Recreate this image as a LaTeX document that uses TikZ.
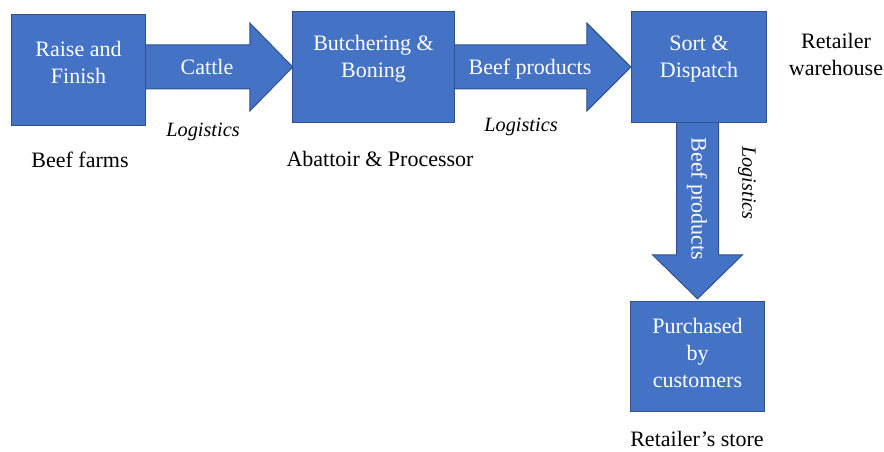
\documentclass[tikz,border=0pt]{standalone}
\usepackage{fontspec}
\setmainfont{Liberation Serif}
\usetikzlibrary{calc}
\definecolor{boxblue}{HTML}{4472C4}
\definecolor{boxline}{HTML}{2F528F}
\begin{document}
\begin{tikzpicture}[x=1pt,y=-1pt,
  box/.style={draw=boxline,line width=1pt,fill=boxblue,inner sep=0pt},
  blockarrow/.style={draw=boxline,line width=1pt,fill=boxblue,line join=miter},
  intext/.style={text=white,align=center,font=\fontsize{22}{27}\selectfont,inner sep=0pt},
  lbl/.style={text=black,align=center,font=\fontsize{22}{27}\selectfont,inner sep=0pt},
  logi/.style={text=black,font=\fontsize{20.3}{24}\selectfont\itshape,inner sep=0pt}]
\useasboundingbox (0,0) rectangle (884,452);
% boxes (positions)
\coordinate (p1) at (78.5,70);
\coordinate (p2) at (373.5,67);
\coordinate (p3) at (699,67);
\coordinate (p4) at (697.5,356.5);
\path (p1) node[minimum width=133pt,minimum height=110pt,inner sep=0pt] (b1) {};
\path (p2) node[minimum width=161pt,minimum height=110pt,inner sep=0pt] (b2) {};
\path (p3) node[minimum width=134pt,minimum height=110pt,inner sep=0pt] (b3) {};
\path (p4) node[minimum width=133pt,minimum height=109pt,inner sep=0pt] (b4) {};
% block arrows
\draw[blockarrow] ($(b1.east|-b2.west)+(-2,-22)$) -- ($(b2.west)+(-43,-22)$) -- ($(b2.west)+(-43,-44)$) -- (b2.west)
  -- ($(b2.west)+(-43,44)$) -- ($(b2.west)+(-43,22)$) -- ($(b1.east|-b2.west)+(-2,22)$);
\draw[blockarrow] ($(b2.east)+(-2,-22)$) -- ($(b3.west|-b2.east)+(-45,-22)$) -- ($(b3.west|-b2.east)+(-45,-44)$) -- ($(b3.west|-b2.east)+(-1,0)$)
  -- ($(b3.west|-b2.east)+(-45,44)$) -- ($(b3.west|-b2.east)+(-45,22)$) -- ($(b2.east)+(-2,22)$);
\draw[blockarrow] ($(b4.north|-b3.south)+(-21,-2)$) -- ($(b4.north)+(-21,-47)$) -- ($(b4.north)+(-45,-47)$) -- ($(b4.north)+(0,-3)$)
  -- ($(b4.north)+(45,-47)$) -- ($(b4.north)+(21,-47)$) -- ($(b4.north|-b3.south)+(21,-2)$);
% boxes drawn
\draw[box] (b1.north west) rectangle (b1.south east);
\draw[box] (b2.north west) rectangle (b2.south east);
\draw[box] (b3.north west) rectangle (b3.south east);
\draw[box] (b4.north west) rectangle (b4.south east);
% box texts
\node[intext] (t1) at ($(b1.center)+(0,-8)$) {Raise and\\Finish};
\node[intext] (t2) at ($(b2.center)+(0,-8)$) {Butchering \&\\Boning};
\node[intext] (t3) at ($(b3.center)+(0,-8)$) {Sort \&\\Dispatch};
\node[intext] (t4) at ($(b4.center)+(0,-4)$) {Purchased\\by\\customers};
% arrow texts
\node[intext] (a1) at (207,67) {Cattle};
\node[intext] (a2) at (530,69) {Beef products};
\node[intext,rotate=-90] (a3) at (697,199) {Beef products};
% logistics
\node[logi] (l1) at (203,132) {Logistics};
\node[logi] (l2) at (521,127) {Logistics};
\node[logi,rotate=-90] (l3) at (747,183) {Logistics};
% location labels
\node[lbl] (c1) at (80,160) {Beef farms};
\node[lbl] (c2) at (380,159) {Abattoir \& Processor};
\node[lbl] (c3) at (836,54) {Retailer\\warehouse};
\node[lbl] (c4) at (697,439) {Retailer’s store};
\end{tikzpicture}
\end{document}
